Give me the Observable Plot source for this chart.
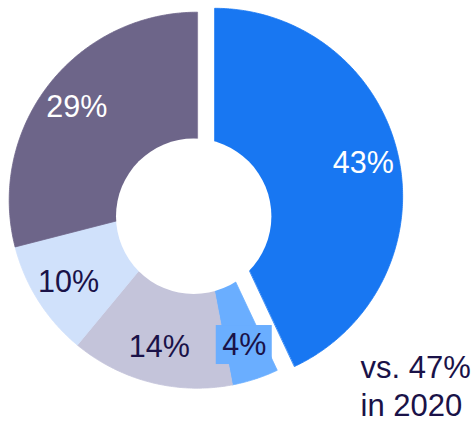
<!DOCTYPE html>
<html><head><meta charset="utf-8">
<script src="https://cdn.jsdelivr.net/npm/d3@7"></script>
<script src="https://cdn.jsdelivr.net/npm/@observablehq/plot@0.6"></script>
<style>html,body{margin:0;padding:0;background:#fff}</style>
</head><body><div id="chart"></div>
<script>
// ---- data ----
const categories = ["A", "B", "C", "D", "E"];
const values = [43, 4, 14, 10, 29];
const labels = ["43%", "4%", "14%", "10%", "29%"];
const explodedCategories = ["A"];
const boxedLabels = ["4%"];
const annotationLines = ["vs. 47%", "in 2020"];

// ---- styles ----
const palette = ["#1877f2", "#6aaeff", "#c4c4da", "#d0e1fb", "#6d6589"];
const navy = "#1a1248";
const labelInk = {"43%": "#ffffff", "29%": "#ffffff"};
const font = "'Liberation Sans', Arial, Helvetica, sans-serif";

const W = 474, H = 421;
const cx = 196.7, cy = 199.7, R = 188;       // pie centre & radius (px)
const explode = 0.095;                        // in radius units
const holeX = (193.2 - cx) / R, holeY = (cy - 215.8) / R, holeR = 77.7;
const labelRadius = 0.81;

const rows = categories.map((c, i) => ({cat: c, value: values[i], label: labels[i]}));
const arcs = d3.pie().sort(null).value(d => d.value)(rows);

const slicePts = [];
const labelPts = [];
for (const a of arcs) {
  const mid = (a.startAngle + a.endAngle) / 2;
  const off = explodedCategories.includes(a.data.cat) ? explode : 0;
  const ox = off * Math.sin(mid), oy = off * Math.cos(mid);
  slicePts.push({cat: a.data.cat, x: ox, y: oy});
  const n = Math.max(2, Math.ceil((a.endAngle - a.startAngle) / 0.01));
  for (let k = 0; k <= n; k++) {
    const t = a.startAngle + (a.endAngle - a.startAngle) * k / n;
    slicePts.push({cat: a.data.cat, x: ox + Math.sin(t), y: oy + Math.cos(t)});
  }
  labelPts.push({
    label: a.data.label,
    x: ox + labelRadius * Math.sin(mid),
    y: oy + labelRadius * Math.cos(mid),
    ink: labelInk[a.data.label] || navy,
    fill: palette[categories.indexOf(a.data.cat)]
  });
}
const boxes = labelPts.filter(d => boxedLabels.includes(d.label));
const bw = 28 / R, bh = 19.5 / R;

const chart = Plot.plot({
  width: W, height: H,
  margin: 0,
  x: {domain: [-cx / R, (W - cx) / R], range: [0, W], axis: null},
  y: {domain: [cy / R, (cy - H) / R], range: [0, H], axis: null},
  color: {domain: categories, range: palette},
  style: {fontFamily: font, background: "#fff"},
  marks: [
    Plot.line(slicePts, {x: "x", y: "y", z: "cat", fill: "cat", stroke: "cat", strokeWidth: 0.8, curve: "linear-closed"}),
    Plot.dot([0], {x: () => holeX, y: () => holeY, r: holeR, fill: "#fff", stroke: null}),
    Plot.rect(boxes, {x1: d => d.x - bw, x2: d => d.x + bw, y1: d => d.y - bh, y2: d => d.y + bh, fill: d => d.fill}),
    Plot.text(labelPts, {x: "x", y: "y", text: "label", fill: d => d.ink, fontSize: 30.5, fontFamily: font}),
    Plot.text([annotationLines.join("\n")], {frameAnchor: "bottom-left", dx: 360, dy: -6, lineAnchor: "bottom", textAnchor: "start", lineHeight: 1.2, fontSize: 31, fill: navy, fontFamily: font})
  ]
});
document.getElementById("chart").appendChild(chart);
</script>
</body></html>
